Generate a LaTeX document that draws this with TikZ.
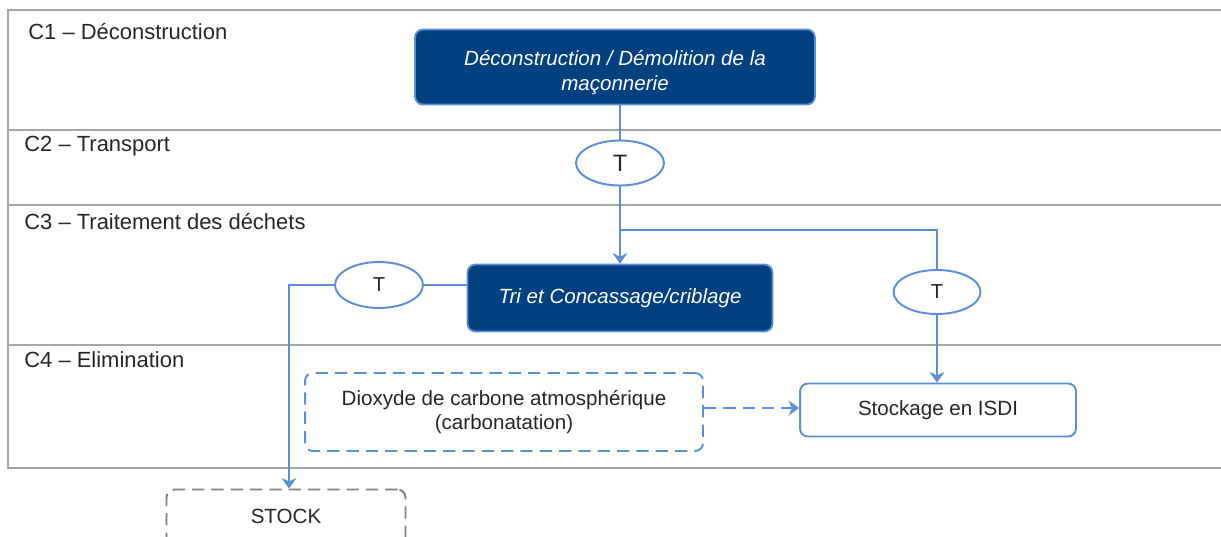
\documentclass[tikz,border=0pt]{standalone}
\usepackage{fontspec}
\setmainfont{Liberation Sans}
\usetikzlibrary{arrows.meta,shapes.geometric}

\definecolor{boxblue}{HTML}{02407F}
\definecolor{lineblue}{HTML}{5A8FD8}
\definecolor{lanegray}{HTML}{A6A6A6}
\definecolor{txtgray}{HTML}{262626}

\begin{document}
\begin{tikzpicture}[x=0.02cm, y=-0.02cm]
        \tikzset{lane/.style={draw=lanegray, line width=1.1pt},
                 lanelabel/.style={anchor=base west, inner sep=0pt, text=txtgray, font=\fontsize{12.5}{15}\selectfont},
                 darkbox/.style={draw=lineblue, fill=boxblue, line width=1pt, rounded corners=4.5pt, text=white, align=center, font=\fontsize{11.7}{14.5}\selectfont\itshape},
                 whitebox/.style={draw=lineblue, fill=white, line width=1.1pt, rounded corners=4.5pt, text=txtgray, align=center, font=\fontsize{11.7}{14}\selectfont},
                 dashbox/.style={whitebox, dash pattern=on 7pt off 4pt},
                 tnode/.style={draw=lineblue, ellipse, line width=1.1pt, fill=white, inner sep=0pt, text=txtgray},
                 flow/.style={draw=lineblue, line width=1.1pt},
                 tip/.style={-{Stealth[length=6pt, width=8.5pt, inset=2pt]}}}
        \useasboundingbox (0,0) rectangle (1221,537);
        % lanes
        \draw [lane] (1230,10) -- (8,10) -- (8,468) -- (1230,468);
        \draw [lane] (8,130) -- (1230,130);
        \draw [lane] (8,205) -- (1230,205);
        \draw [lane] (8,345) -- (1230,345);
        \node [lanelabel] (c1) at (28,40)  {C1 -- Déconstruction};
        \node [lanelabel] (c2) at (24,152) {C2 -- Transport};
        \node [lanelabel] (c3) at (24,229) {C3 -- Traitement des déchets};
        \node [lanelabel] (c4) at (24,367) {C4 -- Elimination};
        % boxes
        \node [darkbox, minimum width=8cm, minimum height=1.5cm] (demol) at (615,67)
              {\rule{0pt}{15pt}Déconstruction / Démolition de la\\maçonnerie};
        \node [darkbox, minimum width=6.1cm, minimum height=1.34cm] (tri) at (620,298)
              {Tri et Concassage/criblage};
        \node [whitebox, minimum width=5.52cm, minimum height=1.06cm] (isdi) at (938,410)
              {Stockage en ISDI};
        \node [dashbox, minimum width=7.96cm, minimum height=1.56cm] (co2) at (504,412)
              {Dioxyde de carbone atmosphérique\\(carbonatation)};
        \node [dashbox, draw=gray, minimum width=4.78cm, minimum height=1.3cm, text depth=0pt] (stock) at (286,522)
              {\raisebox{1.0ex}{STOCK}};
        % transports
        \node [tnode, minimum width=1.76cm, minimum height=0.9cm, font=\fontsize{13.5}{15}\selectfont] (t1) at (620,163) {T};
        \node [tnode, minimum width=1.76cm, minimum height=0.92cm, font=\fontsize{11.5}{14}\selectfont] (t2) at (379,285) {T};
        \node [tnode, minimum width=1.74cm, minimum height=0.88cm, font=\fontsize{11.5}{14}\selectfont] (t3) at (937,292) {T};
        \coordinate (split) at (620,230);
        \coordinate (bend) at (289,285);
        % connectors
        \draw [flow] (t1) -- (t1 |- demol.south);
        \draw [flow, tip] (t1) -- (tri);
        \draw [flow] (split) -| (t3);
        \draw [flow, tip] (t3) -- (t3 |- isdi.north);
        \draw [flow] (tri.west |- t2) -- (t2);
        \draw [flow, tip] (t2) -- (bend) -- (bend |- stock.north);
        \draw [flow, tip, dash pattern=on 7pt off 4pt] (co2.east |- 0,408) -- (isdi.west |- 0,408);
    \end{tikzpicture}
\end{document}
